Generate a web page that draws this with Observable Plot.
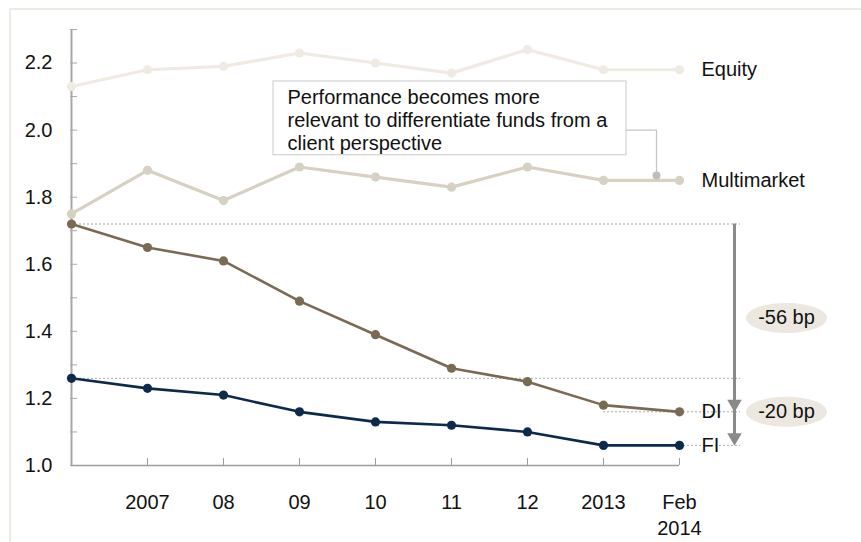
<!DOCTYPE html>
<html>
<head>
<meta charset="utf-8">
<script src="https://cdn.jsdelivr.net/npm/d3@7"></script>
<script src="https://cdn.jsdelivr.net/npm/@observablehq/plot@0.6"></script>
<style>
  html, body { margin: 0; padding: 0; background: #fff; }
  #chart { position: relative; width: 861px; height: 542px; overflow: hidden; }
  #chart .edge {
    position: absolute; left: 9px; top: 8px; right: -6px; bottom: -6px;
    border-top: 2px solid #efebe4; border-left: 2px solid #efebe4;
    pointer-events: none;
  }
</style>
</head>
<body>
<div id="chart"><div class="edge"></div></div>
<script>
// Periods on the x axis and the labels printed under them
const categories = ["2006", "2007", "2008", "2009", "2010", "2011", "2012", "2013", "Feb 2014"];
const tickLabels = ["", "2007", "08", "09", "10", "11", "12", "2013", "Feb\n2014"];

// Average fee level by fund type
const equity      = [2.13, 2.18, 2.19, 2.23, 2.20, 2.17, 2.24, 2.18, 2.18];
const multimarket = [1.75, 1.88, 1.79, 1.89, 1.86, 1.83, 1.89, 1.85, 1.85];
const di          = [1.72, 1.65, 1.61, 1.49, 1.39, 1.29, 1.25, 1.18, 1.16];
const fi          = [1.26, 1.23, 1.21, 1.16, 1.13, 1.12, 1.10, 1.06, 1.06];

const seriesNames = ["Equity", "Multimarket", "DI", "FI"];
const seriesValues = [equity, multimarket, di, fi];

// Y axis
const yDomain = [1.0, 2.3];
const yLabelTicks = [1.0, 1.2, 1.4, 1.6, 1.8, 2.0, 2.2];
const yMinorTicks = [1.0, 1.1, 1.2, 1.3, 1.4, 1.5, 1.6, 1.7, 1.8, 1.9, 2.0, 2.1, 2.2, 2.3];

// Declines from the 2006 level to Feb 2014, in basis points
const dropLabels = ["-56 bp", "-20 bp"];
const dropStart = [1.72, 1.26];
const dropBp = [56, 20];

// Callout text
const noteText = "Performance becomes more\nrelevant to differentiate funds from a\nclient perspective";

// ---- tables built from the arrays above ----
const styles = {
  Equity:      {color: "#efebe3", width: 3.2},
  Multimarket: {color: "#d7d1c2", width: 3.2},
  DI:          {color: "#7b6a53", width: 2.6},
  FI:          {color: "#0c2a4b", width: 2.6}
};
const series = seriesNames.map((name, k) => ({
  name,
  rows: seriesValues[k].map((v, i) => ({period: categories[i], value: v})),
  last: seriesValues[k][seriesValues[k].length - 1]
}));
const drops = dropLabels.map((label, k) => ({
  label,
  from: dropStart[k],
  to: +(dropStart[k] - dropBp[k] / 100).toFixed(2),
  mid: dropStart[k] - dropBp[k] / 200
}));

const first = categories[0];
const last = categories[categories.length - 1];
const font = "'Liberation Sans', Arial, Helvetica, sans-serif";

// Ellipse symbol for the basis-point badges
const ellipse = {
  draw(context, size) {
    const r = Math.sqrt(size / Math.PI);
    const rx = r * 2.7, ry = r, k = 0.5523;
    context.moveTo(rx, 0);
    context.bezierCurveTo(rx, ry * k, rx * k, ry, 0, ry);
    context.bezierCurveTo(-rx * k, ry, -rx, ry * k, -rx, 0);
    context.bezierCurveTo(-rx, -ry * k, -rx * k, -ry, 0, -ry);
    context.bezierCurveTo(rx * k, -ry, rx, -ry * k, rx, 0);
    context.closePath();
  }
};

const arrowDx = 55;   // arrows sit to the right of the last period
const badgeDx = 107;

const chart = Plot.plot({
  width: 861,
  height: 542,
  marginTop: 29,
  marginBottom: 77,
  marginLeft: 70,
  marginRight: 181,
  style: {fontFamily: font, fontSize: "20px", color: "#111", background: "transparent", overflow: "visible"},
  x: {type: "point", domain: categories, padding: 0, axis: null},
  y: {domain: yDomain, axis: null},
  marks: [
    // reference levels (dotted)
    Plot.ruleY(drops, {y: "from", x1: () => first, x2: () => last, insetRight: -(arrowDx + 6),
      stroke: "#a9a9a9", strokeWidth: 1, strokeDasharray: "2,2"}),
    Plot.ruleY(drops, {y: "to", x1: () => categories[7], x2: () => last, insetRight: -(arrowDx + 6),
      stroke: "#a9a9a9", strokeWidth: 1, strokeDasharray: "2,2"}),

    // axes
    Plot.ruleX([first], {x: d => d, y1: () => yDomain[0], y2: () => yDomain[1], stroke: "#a8a8a8", strokeWidth: 2}),
    Plot.axisY({ticks: yMinorTicks, tickSize: -7, tickFormat: () => "", label: null, stroke: "#a8a8a8"}),
    Plot.axisY({ticks: yLabelTicks, tickSize: 0, tickPadding: 18, tickFormat: d3.format(".1f"), label: null,
      fontSize: 20, fill: "#111"}),
    Plot.ruleY([yDomain[0]], {y: d => d, x1: () => first, x2: () => last, stroke: "#9c9c9c", strokeWidth: 1.5}),
    Plot.axisX({ticks: categories.slice(1), tickSize: -7, tickFormat: () => "", label: null, stroke: "#9c9c9c"}),
    Plot.axisX({ticks: categories, tickSize: 0, tickPadding: 25, fontSize: 20, lineHeight: 1.3, fill: "#111",
      label: null, tickFormat: d => tickLabels[categories.indexOf(d)]}),

    // callout box and its leader to the Multimarket line
    Plot.rect([noteText], {x1: () => categories[3], x2: () => categories[7], y1: () => 2.145, y2: () => 1.925,
      insetLeft: -26, insetRight: -23, fill: "white", stroke: "#c9c9c9", strokeWidth: 1}),
    Plot.text([noteText], {x: () => categories[3], y: () => 2.145, text: d => d, dx: -12, dy: 6,
      textAnchor: "start", lineAnchor: "top", lineHeight: 1.15, fontSize: 20, fill: "#111"}),
    Plot.ruleY([2.0], {y: d => d, x1: () => categories[7], x2: () => categories[7], insetLeft: 23, insetRight: -53,
      stroke: "#c4c4c4", strokeWidth: 1.2}),
    Plot.ruleX([categories[7]], {x: d => d, y1: () => 2.0, y2: () => 1.865, dx: 53, stroke: "#c4c4c4", strokeWidth: 1.2}),

    // series lines, dots and end labels
    ...series.flatMap(s => [
      Plot.line(s.rows, {x: "period", y: "value", stroke: styles[s.name].color, strokeWidth: styles[s.name].width}),
      Plot.dot(s.rows, {x: "period", y: "value", r: 4.6, fill: styles[s.name].color})
    ]),
    Plot.dot([categories[7]], {x: d => d, y: () => 1.865, dx: 53, r: 4, fill: "#bdbec2"}),
    Plot.text(series, {x: () => last, y: "last", text: "name", dx: 22, textAnchor: "start", fontSize: 20, fill: "#111"}),

    // decline arrows and badges
    Plot.ruleX(drops, {x: () => last, y1: "from", y2: "to", dx: arrowDx, insetBottom: 8, stroke: "#8a8a8a", strokeWidth: 3}),
    Plot.dot(drops, {x: () => last, y: "to", dx: arrowDx, dy: -8, symbol: "triangle", rotate: 180, r: 5.4,
      fill: "#8a8a8a", stroke: "none"}),
    Plot.dot(drops, {x: () => last, y: "mid", dx: badgeDx, symbol: ellipse, r: 15, fill: "#ece8e0", stroke: "none"}),
    Plot.text(drops, {x: () => last, y: "mid", dx: badgeDx, text: "label", fontSize: 20, fill: "#111"})
  ]
});

document.getElementById("chart").prepend(chart);
</script>
</body>
</html>
